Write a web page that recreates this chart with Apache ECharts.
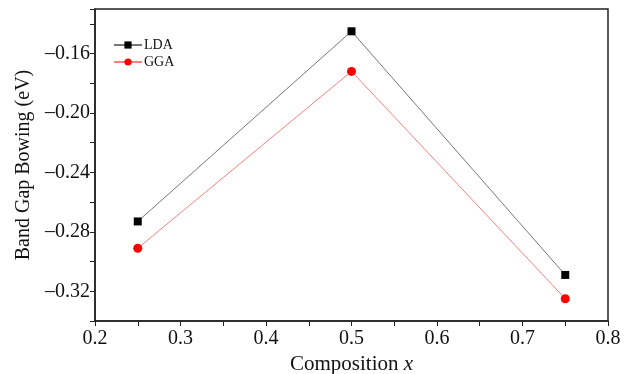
<!DOCTYPE html>
<html>
<head>
<meta charset="utf-8">
<script src="https://cdn.jsdelivr.net/npm/echarts@6/dist/echarts.min.js"></script>
<style>
  html, body { margin: 0; padding: 0; background: #fff; }
  #main { width: 626px; height: 374px; }
</style>
</head>
<body>
<div id="main"></div>
<script>
// composition values
const composition = [0.25, 0.5, 0.75];
// bowing values (eV)
const ldaValues = [-0.273, -0.145, -0.309];
const ggaValues = [-0.291, -0.172, -0.325];
const xLabels = ['0.2', '0.3', '0.4', '0.5', '0.6', '0.7', '0.8'];
const yLabels = ['-0.16', '-0.20', '-0.24', '-0.28', '-0.32'];

const chart = echarts.init(document.getElementById('main'));
const font = 'Liberation Serif';

function pairs(xs, ys) {
  return xs.map((x, i) => [x, ys[i]]);
}

const option = {
  backgroundColor: '#fff',
  textStyle: { fontFamily: font },
  animation: false,
  grid: {
    left: 95, right: 18, top: 9, bottom: 53,
    outerBoundsMode: 'none',
    containLabel: false,
    show: true,
    borderColor: '#222',
    borderWidth: 1.5,
  },
  legend: {
    orient: 'vertical',
    left: 108,
    top: 33,
    itemWidth: 28,
    itemHeight: 9,
    itemGap: 3,
    textStyle: { fontFamily: font, fontSize: 14, color: '#111', padding: [0, 0, 0, -3] },
    data: ['LDA', 'GGA'],
  },
  xAxis: {
    type: 'value',
    min: 0.2,
    max: 0.8,
    interval: 0.05,
    name: 'Composition {i|x}',
    nameLocation: 'middle',
    nameGap: 32,
    nameTextStyle: {
      fontFamily: font, fontSize: 21, color: '#111',
      rich: { i: { fontFamily: font, fontSize: 21, fontStyle: 'italic', color: '#111' } },
    },
    axisLine: { lineStyle: { color: '#222', width: 1.5 } },
    axisTick: { inside: false, length: 5, lineStyle: { color: '#222' } },
    axisLabel: {
      fontFamily: font, fontSize: 20, color: '#111', margin: 8,
      formatter: v => {
        const s = v.toFixed(1);
        return Math.abs(v * 10 - Math.round(v * 10)) < 1e-6 && xLabels.includes(s) ? s : '';
      },
    },
    splitLine: { show: false },
  },
  yAxis: {
    type: 'value',
    min: -0.34,
    max: -0.13,
    interval: 0.02,
    name: 'Band Gap Bowing (eV)',
    nameLocation: 'middle',
    nameGap: 60,
    nameTextStyle: { fontFamily: font, fontSize: 20, color: '#111' },
    axisLine: { show: true, lineStyle: { color: '#222', width: 1.5 } },
    axisTick: { show: true, length: 5, lineStyle: { color: '#222' } },
    axisLabel: {
      fontFamily: font, fontSize: 20, color: '#111', margin: 5,
      formatter: v => {
        const s = v.toFixed(2);
        return yLabels.includes(s) ? s.replace('-', '\u2013') : '';
      },
    },
    splitLine: { show: false },
  },
  series: [
    {
      name: 'LDA',
      type: 'line',
      data: pairs(composition, ldaValues),
      symbol: 'rect',
      symbolSize: 8,
      itemStyle: { color: '#000' },
      lineStyle: { color: '#777', width: 1 },
    },
    {
      name: 'GGA',
      type: 'line',
      data: pairs(composition, ggaValues),
      symbol: 'circle',
      symbolSize: 9,
      itemStyle: { color: '#f00' },
      lineStyle: { color: '#ff8080', width: 1 },
    },
  ],
};

chart.setOption(option);
</script>
</body>
</html>
